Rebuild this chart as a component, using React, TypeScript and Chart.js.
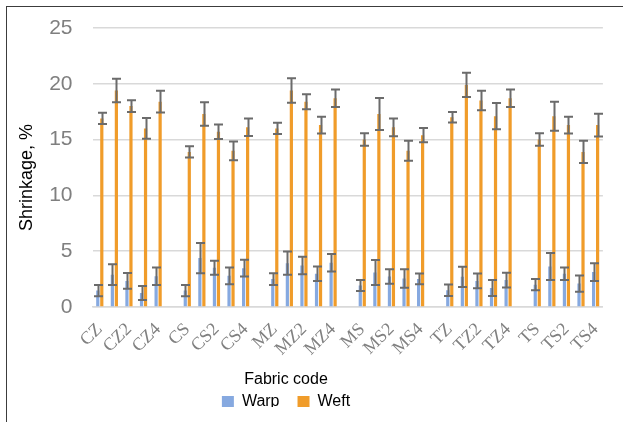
import React, { useEffect, useRef } from "react";
import { Chart, registerables } from "chart.js";

Chart.register(...registerables);

const categories = [
  "CZ", "CZ1", "CZ2", "CZ3", "CZ4", "",
  "CS", "CS1", "CS2", "CS3", "CS4", "",
  "MZ", "MZ1", "MZ2", "MZ3", "MZ4", "",
  "MS", "MS1", "MS2", "MS3", "MS4", "",
  "TZ", "TZ1", "TZ2", "TZ3", "TZ4", "",
  "TS", "TS1", "TS2", "TS3", "TS4",
];

const warpValues = [
  1.47, 2.9, 2.34, 1.26, 2.76, null,
  1.47, 4.38, 3.51, 2.79, 3.48, null,
  2.5, 3.93, 3.72, 2.98, 3.96, null,
  1.93, 3.1, 2.74, 2.56, 2.52, null,
  1.5, 2.7, 2.34, 1.71, 2.41, null,
  2.0, 3.63, 2.98, 2.1, 3.13,
];

const warpErrors = [
  0.5, 0.93, 0.7, 0.63, 0.78, null,
  0.5, 1.35, 0.63, 0.75, 0.75, null,
  0.53, 1.05, 0.78, 0.65, 0.78, null,
  0.5, 1.12, 0.65, 0.83, 0.48, null,
  0.52, 0.9, 0.66, 0.72, 0.67, null,
  0.5, 1.2, 0.55, 0.73, 0.8,
];

const weftValues = [
  16.9, 19.4, 18.0, 16.0, 18.4, null,
  13.9, 17.3, 15.7, 14.0, 16.1, null,
  16.0, 19.4, 18.4, 16.3, 18.7, null,
  15.0, 17.3, 16.1, 14.0, 15.4, null,
  17.0, 19.9, 18.5, 17.1, 18.7, null,
  15.0, 17.1, 16.3, 13.9, 16.3,
];

const weftErrors = [
  0.5, 1.05, 0.53, 0.93, 0.97, null,
  0.5, 1.05, 0.65, 0.84, 0.78, null,
  0.5, 1.1, 0.67, 0.75, 0.78, null,
  0.56, 1.43, 0.8, 0.9, 0.63, null,
  0.47, 1.08, 0.87, 1.18, 0.78, null,
  0.56, 1.3, 0.75, 1.0, 1.02,
];

const yTicks = [0, 5, 10, 15, 20, 25];

const errorsBySeries = [warpErrors, weftErrors];

const LEGEND_PAD = 18;

const errorBarPlugin = {
  id: "errorBars",
  afterDatasetsDraw(chart: any) {
    const ctx = chart.ctx;
    const yScale = chart.scales.y;
    ctx.save();
    ctx.strokeStyle = "#6b6b6b";
    ctx.lineWidth = 2;
    chart.data.datasets.forEach((ds: any, di: number) => {
      const meta = chart.getDatasetMeta(di);
      const errs = errorsBySeries[di];
      meta.data.forEach((el: any, i: number) => {
        const v = ds.data[i];
        const e = errs[i];
        if (v == null || e == null) return;
        const x = Math.round(el.x) + 0.5;
        const yt = yScale.getPixelForValue(v + e);
        const yb = yScale.getPixelForValue(v - e);
        const cap = 4.5;
        ctx.beginPath();
        ctx.moveTo(x, yt);
        ctx.lineTo(x, yb);
        ctx.moveTo(x - cap, yt);
        ctx.lineTo(x + cap, yt);
        ctx.moveTo(x - cap, yb);
        ctx.lineTo(x + cap, yb);
        ctx.stroke();
      });
    });
    ctx.restore();
  },
};

const shiftPlugin = {
  id: "shiftBottom",
  afterLayout(chart: any) {
    const dx = -29;
    const dy = -(LEGEND_PAD - 4) + 1;
    if (chart.legend) {
      chart.legend.left += dx;
      chart.legend.right += dx;
      chart.legend.top += dy;
      chart.legend.bottom += dy;
    }
    if (chart.titleBlock) {
      chart.titleBlock.left += dx;
      chart.titleBlock.right += dx;
    }
  },
};

export default function App() {
  const ref = useRef<HTMLCanvasElement | null>(null);

  useEffect(() => {
    if (!ref.current) return;
    const chart = new Chart(ref.current, {
      type: "bar",
      data: {
        labels: categories,
        datasets: [
          {
            label: "Warp",
            data: warpValues,
            backgroundColor: "#86a9e0",
            barPercentage: 0.8,
            categoryPercentage: 0.55,
          },
          {
            label: "Weft",
            data: weftValues,
            backgroundColor: "#f09c2a",
            barPercentage: 0.8,
            categoryPercentage: 0.55,
          },
        ],
      },
      options: {
        responsive: false,
        animation: false,
        layout: { padding: { left: 16, right: 9, top: 28, bottom: 2 } },
        plugins: {
          tooltip: { enabled: false },
          title: {
            display: true,
            text: "Fabric code",
            position: "bottom",
            weight: 500,
            color: "#000",
            font: { family: "'Liberation Sans', Arial, sans-serif", size: 16, weight: "normal" },
            padding: { top: 4, bottom: 0 },
          },
          legend: {
            position: "bottom",
            maxHeight: 31,
            labels: {
              boxWidth: 12,
              boxHeight: 12,
              padding: LEGEND_PAD,
              color: "#000",
              font: { family: "'Liberation Sans', Arial, sans-serif", size: 16 },
            },
          },
        },
        scales: {
          x: {
            afterFit: (scale: any) => {
              scale.height = 58.8;
            },
            grid: { display: false, drawTicks: false },
            border: { display: true, color: "#d9d9d9", width: 1.5 },
            ticks: {
              autoSkip: false,
              minRotation: 45,
              maxRotation: 45,
              padding: 12,
              color: "#808080",
              font: { family: "'Liberation Serif', 'Times New Roman', serif", size: 18 },
              callback: (_v: any, i: number) => (i % 2 === 0 ? categories[i] : ""),
            },
          },
          y: {
            min: 0,
            max: 25,
            afterBuildTicks: (scale: any) => {
              scale.ticks = yTicks.map((v) => ({ value: v }));
            },
            afterFit: (scale: any) => {
              scale.width = 76.5;
              scale.paddingTop = 0;
              scale.paddingBottom = 0;
            },
            grid: { color: "#d9d9d9", lineWidth: 1.5, drawTicks: false },
            border: { display: false },
            ticks: {
              padding: 20,
              color: "#7f7f7f",
              font: { family: "'Liberation Sans', Arial, sans-serif", size: 21 },
            },
            title: {
              display: true,
              text: "Shrinkage, %    ",
              color: "#000",
              font: { family: "'Liberation Sans', Arial, sans-serif", size: 18 },
              padding: { top: 0, bottom: 0 },
            },
          },
        },
      },
      plugins: [errorBarPlugin, shiftPlugin],
    });
    return () => chart.destroy();
  }, []);

  return (
    <div style={{ position: "fixed", left: 0, top: 0, width: 623, height: 422, background: "#fff" }}>
      <canvas ref={ref} width={623} height={422} style={{ width: 623, height: 422, display: "block" }} />
      <div
        style={{
          position: "absolute",
          left: 6,
          top: 6,
          right: 0,
          bottom: 0,
          borderLeft: "1.5px solid #3c3c3c",
          borderTop: "1.5px solid #3c3c3c",
          pointerEvents: "none",
        }}
      />
    </div>
  );
}
